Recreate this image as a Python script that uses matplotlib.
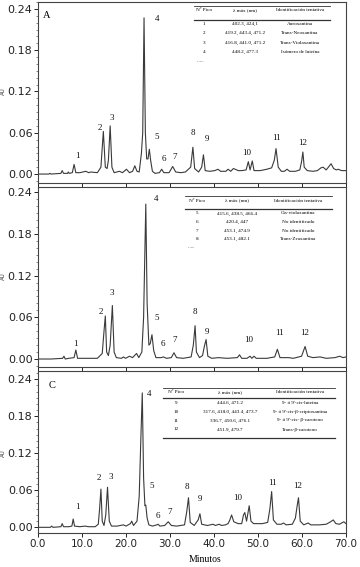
import matplotlib
matplotlib.use("Agg")
import matplotlib.pyplot as plt
from matplotlib.lines import Line2D
from matplotlib.ticker import MultipleLocator, FormatStrFormatter
import matplotlib.transforms as mtransforms

# ---------------- data ----------------
time_A = [0.0, 2.5, 2.7, 3.0, 5.2, 5.5, 5.8, 6.7, 6.9, 7.1, 7.8, 8.2, 8.6, 9.5, 10.9, 11.5, 12.0, 13.5,
          14.3, 14.85, 15.3, 15.7, 16.0, 16.4, 16.8, 17.3, 18.5, 19.2, 20.1, 20.8, 21.5, 22.0, 22.5, 23.0,
          23.5, 23.8, 24.1, 24.4, 24.7, 25.0, 25.3, 25.6, 26.0, 26.6, 27.6, 28.1, 28.6, 29.8, 30.6, 31.3,
          32.5, 33.5, 34.7, 35.2, 35.6, 36.5, 37.2, 37.6, 38.0, 39.0, 40.2, 40.9, 41.5, 42.7, 43.2, 43.8,
          44.4, 44.8, 45.5, 46.3, 47.3, 47.8, 48.2, 48.7, 49.1, 50.5, 52.0, 53.1, 53.7, 54.1, 54.6, 55.3,
          56.0, 56.6, 57.2, 58.5, 59.5, 59.9, 60.2, 60.5, 61.2, 62.5, 63.5, 64.3, 64.8, 65.5, 66.0, 66.6,
          67.2, 67.8, 68.2, 69.0, 70.0]
au_A = [0.000, 0.000, 0.001, 0.000, 0.001, 0.005, 0.001, 0.001, 0.003, 0.001, 0.002, 0.014, 0.002, 0.002,
        0.004, 0.002, 0.003, 0.002, 0.010, 0.062, 0.010, 0.008, 0.020, 0.070, 0.010, 0.002, 0.004, 0.002,
        0.007, 0.002, 0.004, 0.012, 0.004, 0.003, 0.030, 0.060, 0.227, 0.060, 0.022, 0.022, 0.036, 0.020,
        0.004, 0.001, 0.002, 0.007, 0.002, 0.002, 0.011, 0.003, 0.002, 0.003, 0.010, 0.039, 0.008, 0.003,
        0.010, 0.028, 0.005, 0.004, 0.005, 0.007, 0.004, 0.004, 0.007, 0.004, 0.008, 0.007, 0.005, 0.005,
        0.006, 0.018, 0.006, 0.019, 0.005, 0.005, 0.007, 0.009, 0.020, 0.037, 0.010, 0.004, 0.004, 0.007,
        0.004, 0.004, 0.006, 0.018, 0.032, 0.010, 0.005, 0.004, 0.005, 0.009, 0.010, 0.006, 0.010, 0.015,
        0.008, 0.006, 0.007, 0.005, 0.005]

time_B = [0.0, 3.0, 5.6, 5.9, 6.2, 7.0, 8.2, 8.6, 9.0, 10.5, 12.0, 13.5, 14.6, 15.0, 15.3, 15.6, 16.0, 16.4,
          16.9, 17.3, 17.8, 19.0, 19.4, 19.9, 20.8, 21.5, 22.4, 22.9, 23.6, 24.0, 24.5, 24.8, 25.2, 25.5,
          25.9, 26.3, 26.8, 28.0, 28.5, 29.2, 30.3, 30.9, 31.5, 33.0, 34.8, 35.3, 35.7, 36.0, 36.7, 37.4,
          37.8, 38.2, 38.6, 39.5, 41.0, 43.0, 45.3, 45.8, 46.3, 47.5, 48.2, 48.6, 49.1, 49.6, 52.0, 53.8,
          54.4, 55.0, 57.0, 58.0, 59.9, 60.7, 61.3, 62.5, 64.1, 65.5, 67.5, 68.6, 69.3, 70.0]
au_B = [0.000, 0.000, 0.001, 0.004, 0.000, 0.001, 0.002, 0.013, 0.001, 0.001, 0.001, 0.001, 0.008, 0.040,
        0.062, 0.010, 0.005, 0.020, 0.077, 0.010, 0.002, 0.001, 0.003, 0.001, 0.004, 0.002, 0.008, 0.002,
        0.010, 0.060, 0.223, 0.080, 0.020, 0.022, 0.035, 0.012, 0.002, 0.002, 0.003, 0.001, 0.002, 0.009,
        0.002, 0.001, 0.003, 0.020, 0.048, 0.010, 0.002, 0.005, 0.018, 0.028, 0.004, 0.001, 0.002, 0.001,
        0.002, 0.006, 0.001, 0.001, 0.004, 0.001, 0.004, 0.001, 0.001, 0.003, 0.014, 0.002, 0.002, 0.001,
        0.004, 0.018, 0.004, 0.002, 0.003, 0.001, 0.002, 0.004, 0.002, 0.003]

time_C = [0.0, 2.8, 3.1, 3.4, 5.2, 5.5, 5.8, 7.0, 7.7, 8.0, 8.3, 9.5, 10.7, 11.5, 13.0, 13.7, 14.0, 14.3,
          14.6, 15.0, 15.4, 15.8, 16.2, 16.7, 18.0, 19.4, 20.0, 21.0, 21.3, 21.7, 22.5, 23.0, 23.4, 23.7,
          24.0, 24.3, 24.5, 24.8, 25.2, 26.0, 27.0, 27.3, 27.7, 28.8, 29.6, 30.3, 31.5, 33.3, 33.8, 34.2,
          34.6, 35.5, 36.4, 36.8, 37.2, 38.5, 39.8, 40.3, 41.2, 41.7, 42.6, 43.2, 43.6, 44.0, 44.5, 45.5,
          46.3, 46.7, 47.0, 47.4, 48.0, 48.4, 49.0, 51.0, 52.2, 52.7, 53.1, 53.5, 54.3, 55.3, 55.8, 56.4,
          57.8, 58.5, 58.9, 59.2, 59.6, 60.4, 61.4, 62.0, 64.0, 65.5, 66.5, 67.1, 67.7, 68.5, 69.5, 70.0]
au_C = [0.000, 0.000, 0.002, 0.000, 0.001, 0.006, 0.001, 0.001, 0.002, 0.0135, 0.002, 0.001, 0.002, 0.001,
        0.001, 0.005, 0.030, 0.062, 0.010, 0.003, 0.020, 0.065, 0.010, 0.002, 0.002, 0.004, 0.002, 0.006,
        0.010, 0.003, 0.010, 0.050, 0.150, 0.218, 0.080, 0.035, 0.036, 0.015, 0.004, 0.002, 0.004, 0.005,
        0.002, 0.003, 0.009, 0.003, 0.002, 0.004, 0.025, 0.048, 0.008, 0.003, 0.012, 0.022, 0.005, 0.003,
        0.005, 0.003, 0.005, 0.003, 0.004, 0.006, 0.012, 0.020, 0.009, 0.006, 0.006, 0.020, 0.024, 0.010,
        0.035, 0.010, 0.006, 0.006, 0.008, 0.030, 0.058, 0.012, 0.005, 0.005, 0.007, 0.004, 0.005, 0.015,
        0.035, 0.048, 0.010, 0.004, 0.007, 0.004, 0.004, 0.005, 0.009, 0.012, 0.006, 0.005, 0.009, 0.006]

peak_ids = ["1", "2", "3", "4", "5", "6", "7", "8", "9", "10", "11", "12"]

table_header = ["Nº Pico", "λ máx (nm)", "Identificación tentativa"]
tab_A_peaks = ["1", "2", "3", "4"]
tab_A_lambda = ["402.3, 424,1", "419.2, 443.4, 471.2", "416.8, 441.0, 471.2", "448.2, 477.3"]
tab_A_ident = ["Auroxantina", "Trans-Neoxantina", "Trans-Violaxantina", "Isómero de luteína"]
tab_B_peaks = ["5", "6", "7", "8"]
tab_B_lambda = ["415.6, 438.5, 466.4", "420.4, 447", "453.1, 474.9", "453.1, 482.1"]
tab_B_ident = ["Cis-violaxantina", "No identificado", "No identificado", "Trans-Zeaxantina"]
tab_C_peaks = ["9", "10", "11", "12"]
tab_C_lambda = ["444.6, 471.2", "317.6, 418.0, 443.4, 473.7", "336.7, 450.6, 476.1", "451.9, 479.7"]
tab_C_ident = ["9- ó 9'-cis-luteína", "9- ó 9'-cis-β-criptoxantina", "9- ó 9'-cis- β-caroteno",
               "Trans-β-caroteno"]

x_ticks = [0, 10, 20, 30, 40, 50, 60, 70]
y_ticks = [0.00, 0.06, 0.12, 0.18, 0.24]

# ---------------- layout ----------------
W, H = 360, 567
fig = plt.figure(figsize=(W / 100, H / 100), dpi=100)
SERIF = ["Liberation Serif", "DejaVu Serif"]
SANS = ["DejaVu Sans"]
LINE_C = "#3a3a3a"


def fx(px):
    return px / W


def fy(py):
    return 1 - py / H


def make_ax(top, bottom, ylim):
    ax = fig.add_axes([fx(38), fy(bottom), fx(346) - fx(38), (bottom - top) / H])
    ax.set_xlim(0, 70)
    ax.set_ylim(*ylim)
    ax.set_xticks(x_ticks)
    ax.set_yticks(y_ticks)
    ax.yaxis.set_minor_locator(MultipleLocator(0.01))
    ax.yaxis.set_major_formatter(FormatStrFormatter("%.2f"))
    ax.xaxis.set_major_formatter(FormatStrFormatter("%.1f"))
    ax.tick_params(axis="both", which="major", direction="out", length=3, width=0.7,
                   labelsize=8, colors="#222222", pad=1)
    ax.tick_params(axis="y", which="minor", direction="out", length=1.5, width=0.5, colors="#555555")
    for s in ax.spines.values():
        s.set_linewidth(0.8)
        s.set_color("#444444")
    for lab in ax.get_yticklabels():
        lab.set_family(SANS)
    trans = mtransforms.blended_transform_factory(fig.transFigure, ax.transData)
    ax.text(fx(3), 0.12, "AU", transform=trans, rotation=90, ha="center", va="center",
            fontsize=4, family=SANS, color="#333333")
    return ax


axA = make_ax(2, 183, (-0.013, 0.250))
axB = make_ax(187, 367, (-0.0115, 0.2476))
axC = make_ax(371, 533, (-0.0092, 0.2535))
axA.tick_params(axis="x", labelbottom=False)
axB.tick_params(axis="x", labelbottom=False)
axC.tick_params(axis="x", labelsize=7.5)

axA.plot(time_A, au_A, color=LINE_C, lw=0.8)
axB.plot(time_B, au_B, color=LINE_C, lw=0.8)
axC.plot(time_C, au_C, color=LINE_C, lw=0.8)

# peak labels positions (layout)
lab_A = [(8.9, 0.026), (14.1, 0.067), (16.8, 0.081), (27.0, 0.226), (27.0, 0.054), (28.6, 0.022),
         (31.1, 0.025), (35.2, 0.060), (38.4, 0.051), (47.5, 0.031), (54.1, 0.052), (60.2, 0.045)]
lab_B = [(8.4, 0.022), (14.25, 0.068), (16.8, 0.095), (26.8, 0.230), (27.0, 0.059), (28.4, 0.022),
         (31.1, 0.027), (35.7, 0.068), (38.4, 0.039), (48.0, 0.027), (55.0, 0.037), (60.5, 0.037)]
lab_C = [(9.0, 0.033), (13.9, 0.080), (16.6, 0.082), (25.2, 0.216), (25.9, 0.067), (27.3, 0.019),
         (30.0, 0.025), (33.9, 0.065), (36.8, 0.046), (45.5, 0.048), (53.2, 0.072), (59.1, 0.067)]
for ax, labs in ((axA, lab_A), (axB, lab_B), (axC, lab_C)):
    for pid, (tx, ty) in zip(peak_ids, labs):
        ax.text(tx, ty, pid, ha="center", va="center", fontsize=6.5, family=SERIF, color="#111111")

fig.text(fx(47), fy(15), "A", fontsize=7.5, family=SERIF, ha="center", va="center")
fig.text(fx(52), fy(385), "C", fontsize=7.5, family=SERIF, ha="center", va="center")
fig.text(fx(205), fy(559), "Minutos", fontsize=7, family=SERIF, ha="center", va="center")


def hline(x0, x1, y, lw):
    fig.add_artist(Line2D([fx(x0), fx(x1)], [fy(y), fy(y)], transform=fig.transFigure,
                          color="#333333", lw=lw))


def draw_table(x0, x1, y_top, y_head, y_line, rows_y, cols, peaks, lams, idents, dots_y=None,
               bottom_y=None):
    hline(x0, x1, y_top, 0.6)
    hline(x0, x1, y_line, 0.9)
    fs = 3.7
    for c, h in zip(cols, table_header):
        fig.text(fx(c), fy(y_head), h, fontsize=fs, family=SERIF, ha="center", va="center")
    for ry, p, l, i in zip(rows_y, peaks, lams, idents):
        fig.text(fx(cols[0]), fy(ry), p, fontsize=fs, family=SERIF, ha="center", va="center")
        fig.text(fx(cols[1]), fy(ry), l, fontsize=fs, family=SERIF, ha="center", va="center")
        fig.text(fx(cols[2]), fy(ry), i, fontsize=fs, family=SERIF, ha="center", va="center")
    if dots_y is not None:
        fig.text(fx(x0 + 3), fy(dots_y), "......", fontsize=fs, family=SERIF, ha="left", va="center")
    if bottom_y is not None:
        hline(x0, x1, bottom_y, 0.9)


draw_table(194, 330, 5.5, 10, 20, [24, 33, 43, 52], [204, 245, 300],
           tab_A_peaks, tab_A_lambda, tab_A_ident, dots_y=61)
draw_table(185, 332, 196, 200.5, 209, [213.5, 222, 230.5, 239], [197, 237, 298],
           tab_B_peaks, tab_B_lambda, tab_B_ident, dots_y=247)
draw_table(163, 335, 387.5, 392, 398, [403, 412, 420.5, 429.5], [176, 230, 300],
           tab_C_peaks, tab_C_lambda, tab_C_ident, bottom_y=438)

fig.savefig("out.png", dpi=100)
